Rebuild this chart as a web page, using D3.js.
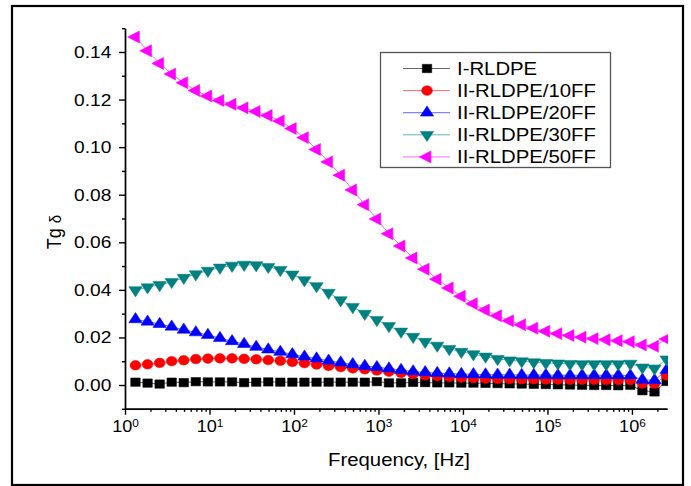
<!DOCTYPE html>
<html>
<head>
<meta charset="utf-8">
<script src="https://cdn.jsdelivr.net/npm/d3@7"></script>
<style>
  body { margin: 0; background: #fff; }
  svg { display: block; font-family: 'Liberation Sans', Arial, sans-serif; }
</style>
</head>
<body>
<div class="chart"></div>
<script>
// measuring frequencies, Hz
const freq = [1.33, 1.85, 2.57, 3.57, 4.96, 6.89, 9.57, 13.3, 18.5, 25.7, 35.7, 49.6, 68.9, 95.7,
  133, 185, 257, 357, 496, 689, 957, 1330, 1850, 2570, 3570, 4960, 6890, 9570,
  13300, 18500, 25700, 35700, 49600, 68900, 95700, 133000, 185000, 257000, 357000,
  496000, 689000, 957000, 1330000, 1850000, 2570000]

const seriesNames = ['I-RLDPE', 'II-RLDPE/10FF', 'II-RLDPE/20FF', 'II-RLDPE/30FF', 'II-RLDPE/50FF']

const tgI = [0.0012, 0.0008, 0.0004, 0.0012, 0.0010, 0.0014, 0.0013, 0.0013, 0.0013, 0.0010, 0.0012,
  0.0013, 0.0012, 0.0012, 0.0012, 0.0012, 0.0012, 0.0012, 0.0012, 0.0012, 0.0014, 0.0009, 0.0009,
  0.0011, 0.0010, 0.0009, 0.0009, 0.0008, 0.0008, 0.0007, 0.0006, 0.0005, 0.0004, 0.0003, 0.0002,
  0.0001, 0.0000, -0.0001, -0.0002, -0.0002, -0.0003, -0.0001, -0.0024, -0.0029, 0.0015]

const tg10 = [0.0083, 0.0087, 0.0093, 0.0100, 0.0104, 0.0109, 0.0111, 0.0112, 0.0112, 0.0110, 0.0108,
  0.0105, 0.0102, 0.0097, 0.0092, 0.0086, 0.0080, 0.0075, 0.0070, 0.0066, 0.0061, 0.0056, 0.0051,
  0.0046, 0.0041, 0.0037, 0.0034, 0.0031, 0.0029, 0.0027, 0.0026, 0.0025, 0.0024, 0.0024, 0.0023,
  0.0023, 0.0022, 0.0022, 0.0022, 0.0021, 0.0021, 0.0021, 0.0006, 0.0005, 0.0040]

const tg20 = [0.0276, 0.0266, 0.0256, 0.0245, 0.0232, 0.0221, 0.0210, 0.0197, 0.0184, 0.0172, 0.0160,
  0.0149, 0.0139, 0.0129, 0.0119, 0.0111, 0.0102, 0.0094, 0.0087, 0.0080, 0.0075, 0.0069, 0.0063,
  0.0057, 0.0053, 0.0050, 0.0048, 0.0046, 0.0045, 0.0044, 0.0043, 0.0043, 0.0042, 0.0042, 0.0042,
  0.0041, 0.0041, 0.0041, 0.0041, 0.0041, 0.0041, 0.0040, 0.0022, 0.0020, 0.0063]

const tg30 = [0.0399, 0.0411, 0.0421, 0.0434, 0.0451, 0.0466, 0.0481, 0.0494, 0.0502, 0.0506, 0.0504,
  0.0497, 0.0484, 0.0465, 0.0441, 0.0416, 0.0388, 0.0357, 0.0328, 0.0300, 0.0274, 0.0248, 0.0225,
  0.0203, 0.0182, 0.0166, 0.0152, 0.0140, 0.0130, 0.0120, 0.0110, 0.0104, 0.0100, 0.0096, 0.0093,
  0.0091, 0.0089, 0.0088, 0.0088, 0.0088, 0.0088, 0.0090, 0.0074, 0.0070, 0.0108]

const tg50 = [0.1463, 0.1405, 0.1352, 0.1307, 0.1271, 0.1238, 0.1215, 0.1196, 0.1180, 0.1165, 0.1150,
  0.1133, 0.1110, 0.1078, 0.1040, 0.0990, 0.0938, 0.0882, 0.0820, 0.0758, 0.0698, 0.0636, 0.0584,
  0.0534, 0.0487, 0.0445, 0.0408, 0.0373, 0.0342, 0.0315, 0.0291, 0.0270, 0.0253, 0.0239, 0.0226,
  0.0216, 0.0208, 0.0201, 0.0195, 0.0190, 0.0186, 0.0182, 0.0168, 0.0163, 0.0193]

const yTicks = [0, 0.02, 0.04, 0.06, 0.08, 0.10, 0.12, 0.14]
const yMinor = [-0.01, 0.01, 0.03, 0.05, 0.07, 0.09, 0.11, 0.13, 0.15]
const xTicks = [1, 10, 100, 1e3, 1e4, 1e5, 1e6]

const colors = ['#000000', '#ff0000', '#0000ff', '#008080', '#ff00ff']
// symbol type and rotation for each series
const shapes = [
  { type: d3.symbolSquare, size: 70, rot: 0 },
  { type: d3.symbolCircle, size: 72, rot: 0 },
  { type: d3.symbolTriangle, size: 60, rot: 0 },
  { type: d3.symbolTriangle, size: 60, rot: 180 },
  { type: d3.symbolTriangle, size: 62, rot: -90 }
]

const W = 691
const H = 486
const sx = 1.13 // the scan is a bit wider than tall

const x = d3.scaleLog().domain([1, 2.6e6]).range([125, 667])
const y = d3.scaleLinear().domain([-0.01, 0.15]).range([408.8, 28.2])

const svg = d3.select('.chart')
  .append('svg')
  .attr('width', W)
  .attr('height', H)

svg.append('rect')
  .attr('x', 12).attr('y', 6)
  .attr('width', 671).attr('height', 479)
  .attr('fill', 'none')
  .attr('stroke', '#000')
  .attr('stroke-width', 2.2)

// axes
const styleAxis = (g) => {
  g.selectAll('path, line').attr('stroke', '#000').attr('stroke-width', 1.4)
  g.selectAll('text').attr('fill', '#000')
}

const xMinor = []
for (let k = 0; k <= 6; k++) {
  for (let m = 2; m <= 9; m++) {
    if (m * 10 ** k <= 2.6e6) xMinor.push(m * 10 ** k)
  }
}

svg.append('g')
  .attr('transform', `translate(0,${y(-0.01)})`)
  .call(d3.axisBottom(x).tickValues(xMinor).tickSize(3).tickSizeOuter(0).tickFormat(''))
  .call(styleAxis)

const gx = svg.append('g')
  .attr('transform', `translate(0,${y(-0.01)})`)
  .call(d3.axisBottom(x).tickValues(xTicks).tickSize(6).tickSizeOuter(0).tickPadding(6).tickFormat(() => '10'))
  .call(styleAxis)

gx.selectAll('.tick text')
  .attr('font-size', 16)
  .attr('transform', `scale(${sx},1)`)
  .append('tspan')
  .attr('dy', '-0.45em')
  .attr('font-size', 10.5)
  .text(d => Math.round(Math.log10(d)))

svg.append('g')
  .attr('transform', 'translate(125,0)')
  .call(d3.axisLeft(y).tickValues(yMinor).tickSize(3).tickSizeOuter(0).tickFormat(''))
  .call(styleAxis)

svg.append('g')
  .attr('transform', 'translate(125,0)')
  .call(d3.axisLeft(y).tickValues(yTicks).tickSize(6).tickSizeOuter(0).tickPadding(6).tickFormat(d3.format('.2f')))
  .call(styleAxis)
  .selectAll('.tick text')
  .attr('font-size', 17)
  .attr('transform', `scale(${sx},1)`)

// axis titles
const yTitle = svg.append('text')
  .attr('transform', `translate(61,232) rotate(-90) scale(1,${sx})`)
  .attr('text-anchor', 'middle')
  .attr('font-size', 18)
yTitle.append('tspan').text('Tg ')
yTitle.append('tspan').attr('font-size', 15).text('δ')

svg.append('text')
  .attr('transform', `translate(399,466) scale(${sx},1)`)
  .attr('text-anchor', 'middle')
  .attr('font-size', 18)
  .text('Frequency, [Hz]')

// data
svg.append('clipPath').attr('id', 'plot-clip')
  .append('rect')
  .attr('x', 125).attr('y', 0)
  .attr('width', 543).attr('height', 409)

const plot = svg.append('g').attr('clip-path', 'url(#plot-clip)')

const allSeries = [tgI, tg10, tg20, tg30, tg50]
const line = d3.line()
  .x((d, i) => x(freq[i]))
  .y(d => y(d))

const symbolPath = (i) => d3.symbol().type(shapes[i].type).size(shapes[i].size)()

allSeries.forEach((vals, s) => {
  const g = plot.append('g')
  g.append('path')
    .datum(vals)
    .attr('d', line)
    .attr('fill', 'none')
    .attr('stroke', colors[s])
    .attr('stroke-opacity', 0.6)
    .attr('stroke-width', 1)

  g.selectAll('path.pt')
    .data(vals)
    .enter()
    .append('path')
    .attr('class', 'pt')
    .attr('d', symbolPath(s))
    .attr('transform', (d, i) => `translate(${x(freq[i])},${y(d)}) scale(${sx},1) rotate(${shapes[s].rot})`)
    .attr('fill', colors[s])
    .attr('stroke', colors[s])
    .attr('stroke-width', 0.5)
})

// legend
const legend = svg.append('g')
legend.append('rect')
  .attr('x', 380.5).attr('y', 52.5)
  .attr('width', 230).attr('height', 115)
  .attr('fill', '#fff')
  .attr('stroke', '#555')
  .attr('stroke-width', 1.3)

seriesNames.forEach((name, s) => {
  const ly = 68.5 + s * 22.1
  legend.append('line')
    .attr('x1', 403).attr('x2', 450)
    .attr('y1', ly).attr('y2', ly)
    .attr('stroke', colors[s])
    .attr('stroke-opacity', 0.6)
  legend.append('path')
    .attr('d', symbolPath(s))
    .attr('transform', `translate(427,${ly}) scale(${sx},1) rotate(${shapes[s].rot})`)
    .attr('fill', colors[s])
    .attr('stroke', colors[s])
    .attr('stroke-width', 0.5)
  legend.append('text')
    .attr('transform', `translate(457,${ly + 6.5}) scale(${sx},1)`)
    .attr('font-size', 18)
    .text(name)
})
</script>
</body>
</html>
